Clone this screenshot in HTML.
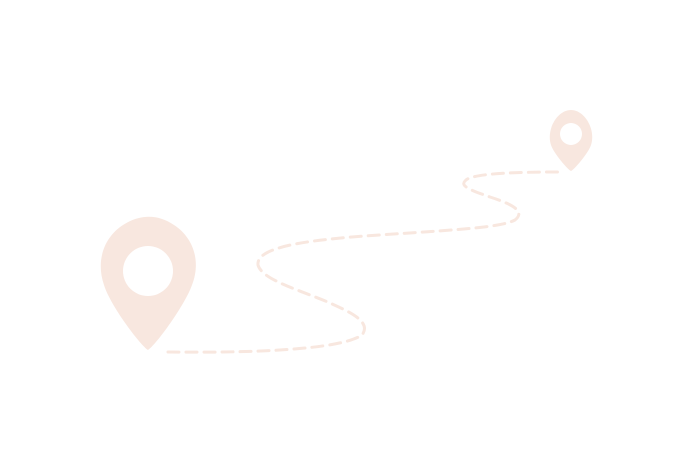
<!DOCTYPE html>
<html><head><style>html,body{margin:0;padding:0;background:#fff}</style></head>
<body>
<svg width="700" height="467" viewBox="0 0 700 467" xmlns="http://www.w3.org/2000/svg">
<path d="M168,352 C250,353 340,350 362,335 C372,322 350,312 330,303 C300,290 262,280 258,265 C256,248 300,240 380,235 C450,230 500,228 515,220 C525,212 515,205 490,197 C470,190 460,186 465,181 C470,173 520,172 562,172" fill="none" stroke="#f8e7df" stroke-width="3" stroke-dasharray="11 7" stroke-linecap="round"/>
<path d="M148,350 C140,345 110,305 104,285 C96,262 103,238 123,225 C140,214 158,214 174,225 C194,238 201,262 192,285 C185,305 156,345 148,350 Z" fill="#f8e7df"/>
<circle cx="148" cy="271" r="25" fill="#fff"/>
<path d="M571,171 C567,169 553,152 551,145 C546,130 557,110 571,110 C585,110 596,130 591,145 C589,152 575,169 571,171 Z" fill="#f8e7df"/>
<circle cx="571" cy="134" r="11" fill="#fff"/>
</svg>
</body></html>
